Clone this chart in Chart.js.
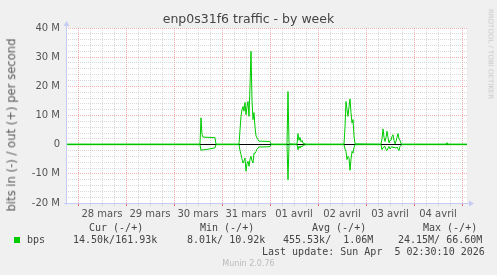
<!DOCTYPE html>
<html>
<head>
<meta charset="utf-8">
<script src="https://cdn.jsdelivr.net/npm/chart.js@4/dist/chart.umd.min.js"></script>
<style>
  body { margin: 0; background: #f0f0f0; }
  #wrap { position: relative; width: 497px; height: 275px; overflow: hidden;
          font-family: 'DejaVu Sans', sans-serif; color: #555; }
  #wrap canvas { position: absolute; left: 0; top: 0; }
  .t { position: absolute; white-space: pre; line-height: 1; }
  .mono { font-family: 'DejaVu Sans Mono', monospace; font-size: 10px; color: #444; }
  .rot { transform: translate(-50%, -50%) rotate(-90deg); }
  .rot90 { transform: translate(-50%, -50%) rotate(90deg); }
</style>
</head>
<body>
<div id="wrap">
  <canvas id="traffic" width="497" height="275"></canvas>
  <div class="t" style="left:0;top:13px;width:497px;text-align:center;font-size:12.5px;color:#444">enp0s31f6 traffic - by week</div>
  <div class="t rot" style="left:12px;top:125px;font-size:11.6px;color:#5a5a5a">bits in (-) / out (+) per second</div>
  <div class="t rot90" style="left:490px;top:54px;font-size:7px;color:#c8c8c8">RRDTOOL / TOBI OETIKER</div>
  <div id="legend"></div>
  <div class="t" style="left:0;top:260px;width:497px;text-align:center;font-size:8px;color:#bbb">Munin 2.0.76</div>
</div>

<script>
// temps en heures depuis le 28 mars 00:00, valeurs en Mbit/s
const hours = [-5.5, 61, 61.5, 62, 62.5, 65.5, 68.5, 69,
  80.5, 81, 81.5, 82, 82.5, 83, 83.5, 84, 84.5, 85, 85.5, 86, 86.5, 87, 87.5, 88, 88.5, 89, 89.5, 90, 90.5, 96, 96.5,
  104.5, 105, 105.5, 109.5, 110, 110.5, 111, 111.5, 112, 112.5, 113.5, 114,
  133, 133.5, 134, 134.5, 135, 135.5, 136, 136.5, 137, 137.5, 138, 138.5,
  151.5, 152, 152.5, 153, 153.5, 154, 154.5, 155, 155.5, 156, 156.5, 157, 157.5, 158, 158.5, 159, 159.5, 160, 160.5, 161, 161.5, 162,
  184, 184.5, 185, 194.5];
const outMbps = [0.2, 0.2, 9.2, 3.5, 2.6, 2.5, 2.4, 0.2,
  0.2, 5, 9.7, 12, 13.1, 11.5, 14.5, 10.3, 13, 14.8, 9.7, 20, 32, 15, 8.6, 11, 6, 3, 2.3, 1.7, 1.2, 1.1, 0.2,
  0.2, 18.2, 0.3, 0.2, 3.8, 1.5, 2.5, 1.0, 1.5, 0.5, 0.3, 0.2,
  0.2, 6, 14.8, 12, 9.7, 13, 15.7, 11, 7.4, 8.6, 3, 0.3,
  0.2, 2, 5.4, 2.5, 1.1, 2.5, 4.6, 2.5, 0.6, 1.5, 1.5, 2.8, 3.4, 1.5, 0.3, 1.2, 2.5, 3.8, 2, 1.5, 0.3, 0.2,
  0.2, 0.7, 0.2, 0.2];
const inMbps = [0, 0, -2.0, -1.7, -1.8, -1.5, -1.1, 0,
  0, -2, -3.4, -5, -6.3, -5.5, -4.6, -9.1, -6.5, -5.7, -7.4, -5, -4, -5.5, -6.3, -2.9, -3, -2.3, -1.5, -1.1, -0.8, -0.7, 0,
  0, -12, 0, 0, -1.7, -0.5, -1.2, -0.4, -0.8, -0.2, -0.1, 0,
  0, -1.5, -2.3, -5.1, -4, -4.5, -8.8, -5, -2.3, -2.9, -1, 0,
  0, -1.7, -1, -0.8, -0.6, -1.7, -2, -1.2, -0.6, -1.5, -1.0, -0.6, -1.1, -0.8, -1.1, -1.1, -0.8, -1.5, -2, -0.6, -0.2, 0,
  0, 0, 0, 0];

const dayLabels = ['28 mars', '29 mars', '30 mars', '31 mars', '01 avril', '02 avril', '03 avril', '04 avril'];
const yMajor = [-20, -10, 0, 10, 20, 30, 40];

const statHeads = ['Cur (-/+)', 'Min (-/+)', 'Avg (-/+)', 'Max (-/+)'];
const statValues = ['14.50k/161.93k', '8.01k/ 10.92k', '455.53k/  1.06M', '24.15M/ 66.60M'];
const lastUpdate = 'Last update: Sun Apr  5 02:30:10 2026';

// legende facon munin
const legend = document.getElementById('legend');
const headLeft = [89, 200, 312, 423];
const valLeft = [73, 187, 283, 398];
let html = '';
statHeads.forEach((h, i) => { html += `<div class="t mono" style="left:${headLeft[i]}px;top:223px">${h}</div>`; });
html += '<div class="t" style="left:14px;top:237px;width:6px;height:6px;background:#00cc00"></div>';
html += '<div class="t mono" style="left:27px;top:235px">bps</div>';
statValues.forEach((v, i) => { html += `<div class="t mono" style="left:${valLeft[i]}px;top:235px">${v}</div>`; });
html += `<div class="t mono" style="left:262px;top:247px">${lastUpdate}</div>`;
legend.innerHTML = html;

const axisCol = '#c4ccf4';
const minorCol = 'rgba(150,150,150,0.36)';
const majorCol = 'rgba(230,70,70,0.42)';

const munin = {
  id: 'munin',
  beforeDraw(chart) {
    const {ctx, chartArea: a} = chart;
    ctx.save();
    ctx.fillStyle = '#fff';
    ctx.fillRect(a.left, a.top, a.right - a.left, a.bottom - a.top);
    ctx.restore();
  },
  afterDatasetsDraw(chart) {
    // axes pleins + fleches
    const {ctx, chartArea: a} = chart;
    ctx.save();
    ctx.strokeStyle = axisCol;
    ctx.fillStyle = axisCol;
    ctx.lineWidth = 1;
    ctx.setLineDash([]);
    ctx.beginPath();
    ctx.moveTo(a.left - 0.5, a.bottom + 2);
    ctx.lineTo(a.left - 0.5, a.top - 3);
    ctx.moveTo(a.left - 3, a.bottom + 0.5);
    ctx.lineTo(a.right + 3, a.bottom + 0.5);
    ctx.stroke();
    ctx.beginPath();
    ctx.moveTo(a.left - 3.5, a.top - 2);
    ctx.lineTo(a.left + 2.5, a.top - 2);
    ctx.lineTo(a.left - 0.5, a.top - 7);
    ctx.fill();
    ctx.beginPath();
    ctx.moveTo(a.right + 2, a.bottom - 2.5);
    ctx.lineTo(a.right + 2, a.bottom + 3.5);
    ctx.lineTo(a.right + 7, a.bottom + 0.5);
    ctx.fill();
    ctx.restore();
  }
};

new Chart(document.getElementById('traffic'), {
  type: 'line',
  data: {
    datasets: [{
      label: 'in',
      data: hours.map((h, i) => ({x: h, y: inMbps[i]})),
      borderColor: '#00cc00',
      borderWidth: 1,
      pointRadius: 0,
      tension: 0
    }, {
      label: 'out',
      data: hours.map((h, i) => ({x: h, y: outMbps[i]})),
      borderColor: '#00cc00',
      borderWidth: 1,
      pointRadius: 0,
      tension: 0
    }]
  },
  options: {
    responsive: false,
    animation: false,
    layout: { padding: { left: 0, top: 28, right: 30, bottom: 0 } },
    plugins: { legend: { display: false }, tooltip: { enabled: false } },
    scales: {
      x: {
        type: 'linear',
        min: -5.5,
        max: 194.5,
        afterFit(scale) { scale.height = 72; },
        ticks: {
          stepSize: 6,
          includeBounds: false,
          autoSkip: false,
          maxRotation: 0,
          padding: 2,
          color: '#555',
          font: { family: 'DejaVu Sans', size: 10 },
          callback: v => (v % 24 === 12 ? dayLabels[(v - 12) / 24] || '' : '')
        },
        grid: {
          color: c => (c.tick && c.tick.value % 24 === 0 ? majorCol : minorCol),
          tickColor: c => (c.tick && c.tick.value % 24 === 0 ? 'rgba(230,70,70,0.8)' : 'rgba(150,150,150,0.25)'),
          tickLength: 3,
          lineWidth: 1
        },
        border: { display: true, color: 'rgba(0,0,0,0)', width: 1, dash: [1, 1] }
      },
      y: {
        min: -20,
        max: 40,
        afterFit(scale) { scale.width = 67; },
        ticks: {
          stepSize: 2,
          autoSkip: false,
          padding: 7,
          color: '#555',
          font: { family: 'DejaVu Sans', size: 10 },
          callback: v => (yMajor.includes(v) ? (v === 0 ? '0' : v + ' M') : '')
        },
        grid: {
          drawTicks: false,
          color: c => {
            if (!c.tick) return minorCol;
            if (c.tick.value === 0) return '#000';
            return c.tick.value % 10 === 0 ? majorCol : minorCol;
          },
          lineWidth: 1
        },
        border: {
          display: true,
          color: 'rgba(0,0,0,0)',
          width: 1,
          dash: c => (c.tick && c.tick.value === 0 ? [] : [1, 1])
        }
      }
    }
  },
  plugins: [munin]
});
</script>
</body>
</html>
